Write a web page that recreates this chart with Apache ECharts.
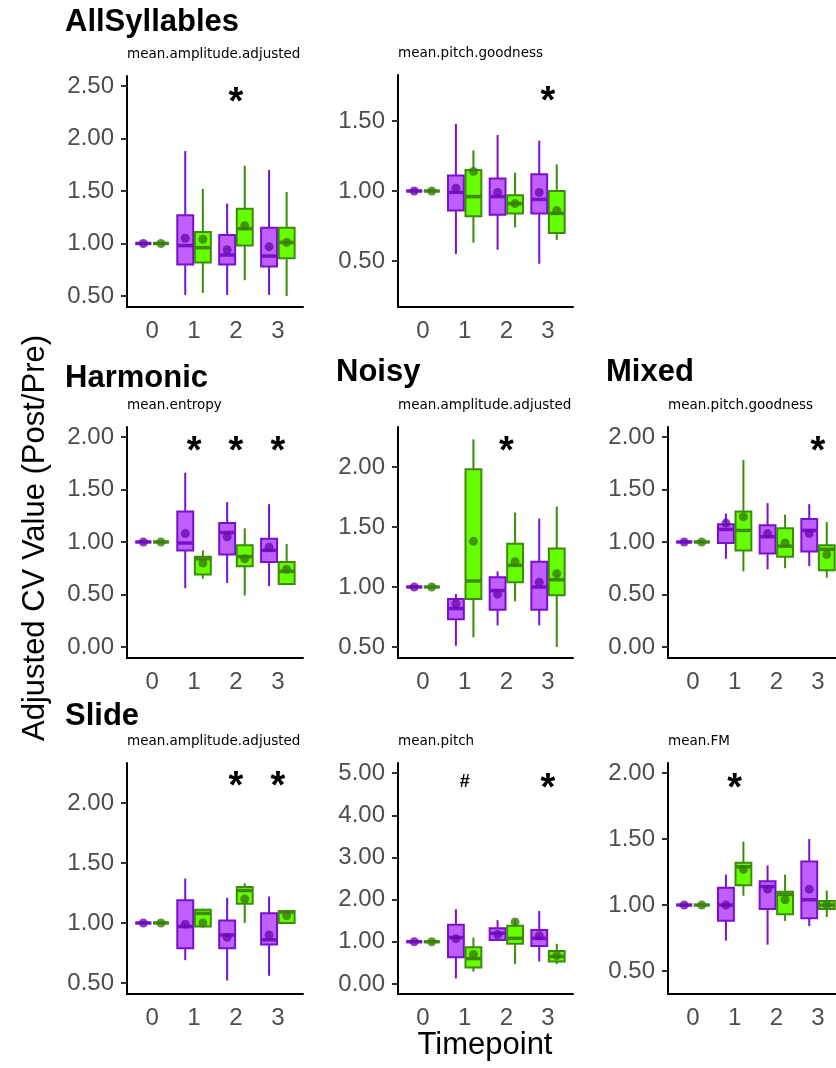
<!DOCTYPE html>
<html><head><meta charset="utf-8">
<script src="https://cdn.jsdelivr.net/npm/echarts@6/dist/echarts.min.js"></script>
<style>html,body{margin:0;padding:0;background:#fff}#c{width:836px;height:1068px}</style>
</head><body><div id="c"></div>
<script>
// ---- Data (box stats per timepoint 0..3: [low whisker, Q1, median, Q3, high whisker]) ----
const timepoints = ['0', '1', '2', '3'];

const allAmpP = [[1,1,1,1,1],[0.51,0.80,0.98,1.27,1.88],[0.51,0.80,0.89,1.08,1.38],[0.51,0.78,0.88,1.15,1.70]];
const allAmpG = [[1,1,1,1,1],[0.53,0.82,0.96,1.11,1.52],[0.65,0.98,1.14,1.33,1.74],[0.50,0.86,1.01,1.15,1.49]];
const allAmpMeanP = [1, 1.05, 0.94, 0.97];
const allAmpMeanG = [1, 1.04, 1.17, 1.01];
const allAmpSig = ['', '', '*', ''];

const allGoodP = [[1,1,1,1,1],[0.55,0.86,0.99,1.11,1.48],[0.58,0.83,0.96,1.09,1.40],[0.48,0.84,0.94,1.12,1.36]];
const allGoodG = [[1,1,1,1,1],[0.63,0.82,0.96,1.15,1.29],[0.74,0.84,0.91,0.97,1.13],[0.65,0.70,0.84,1.00,1.19]];
const allGoodMeanP = [1, 1.02, 0.99, 0.99];
const allGoodMeanG = [1, 1.14, 0.91, 0.86];
const allGoodSig = ['', '', '', '*'];

const harmEntP = [[1,1,1,1,1],[0.56,0.92,0.99,1.29,1.66],[0.61,0.88,1.09,1.18,1.38],[0.58,0.81,0.92,1.03,1.36]];
const harmEntG = [[1,1,1,1,1],[0.65,0.69,0.84,0.86,0.92],[0.49,0.77,0.86,0.97,1.13],[0.59,0.60,0.72,0.81,0.98]];
const harmEntMeanP = [1, 1.08, 1.05, 0.95];
const harmEntMeanG = [1, 0.80, 0.84, 0.74];
const harmEntSig = ['', '*', '*', '*'];

const noisyAmpP = [[1,1,1,1,1],[0.51,0.73,0.82,0.90,0.94],[0.68,0.81,0.97,1.08,1.13],[0.68,0.81,1.00,1.21,1.57]];
const noisyAmpG = [[1,1,1,1,1],[0.58,0.90,1.05,1.98,2.23],[0.88,1.04,1.18,1.36,1.62],[0.50,0.93,1.06,1.32,1.67]];
const noisyAmpMeanP = [1, 0.86, 0.94, 1.04];
const noisyAmpMeanG = [1, 1.38, 1.21, 1.11];
const noisyAmpSig = ['', '', '*', ''];

const mixedGoodP = [[1,1,1,1,1],[0.84,0.99,1.12,1.17,1.27],[0.74,0.89,1.05,1.16,1.37],[0.77,0.91,1.11,1.22,1.36]];
const mixedGoodG = [[1,1,1,1,1],[0.72,0.92,1.11,1.29,1.78],[0.75,0.86,0.96,1.13,1.26],[0.66,0.73,0.93,0.97,1.19]];
const mixedGoodMeanP = [1, 1.18, 1.08, 1.08];
const mixedGoodMeanG = [1, 1.24, 0.99, 0.88];
const mixedGoodSig = ['', '', '', '*'];

const slideAmpP = [[1,1,1,1,1],[0.69,0.79,0.97,1.19,1.37],[0.52,0.79,0.90,1.02,1.21],[0.56,0.82,0.86,1.08,1.22]];
const slideAmpG = [[1,1,1,1,1],[0.97,0.97,1.08,1.11,1.12],[1.00,1.16,1.27,1.30,1.33],[0.99,1.00,1.09,1.10,1.11]];
const slideAmpMeanP = [1, 0.99, 0.88, 0.90];
const slideAmpMeanG = [1, 1.00, 1.20, 1.06];
const slideAmpSig = ['', '', '*', '*'];

const slidePitchP = [[1,1,1,1,1],[0.13,0.63,1.10,1.40,1.77],[1.02,1.04,1.20,1.32,1.51],[0.53,0.90,1.08,1.28,1.73]];
const slidePitchG = [[1,1,1,1,1],[0.29,0.39,0.60,0.87,1.10],[0.47,0.95,1.08,1.38,1.53],[0.47,0.53,0.65,0.78,0.95]];
const slidePitchMeanP = [1, 1.07, 1.17, 1.14];
const slidePitchMeanG = [1, 0.70, 1.47, 0.67];
const slidePitchSig = ['', '#', '', '*'];

const slideFmP = [[1,1,1,1,1],[0.73,0.88,1.00,1.13,1.23],[0.70,0.97,1.14,1.18,1.30],[0.84,0.90,1.04,1.33,1.50]];
const slideFmG = [[1,1,1,1,1],[1.07,1.15,1.29,1.32,1.48],[0.88,0.93,1.08,1.10,1.23],[0.91,0.97,1.00,1.03,1.11]];
const slideFmMeanP = [1, 1.00, 1.12, 1.12];
const slideFmMeanG = [1, 1.27, 1.04, 1.00];
const slideFmSig = ['', '*', '', ''];

// y tick labels per panel
const ticksA = [0.5, 1.0, 1.5, 2.0, 2.5];
const ticksB = [0.5, 1.0, 1.5];
const ticks0to2 = [0.0, 0.5, 1.0, 1.5, 2.0];
const ticksHalfTo2 = [0.5, 1.0, 1.5, 2.0];
const ticks0to5 = [0, 1, 2, 3, 4, 5];

// ---- Layout ----
const panels = [
  {title:'AllSyllables', titleY:22, sub:'mean.amplitude.adjusted', left:127, top:76, width:176, height:231, ymin:0.395, ymax:2.595, ticks:ticksA, sigY:2.41,
   P:allAmpP, G:allAmpG, mP:allAmpMeanP, mG:allAmpMeanG, sig:allAmpSig},
  {title:'', sub:'mean.pitch.goodness', left:398, top:75, width:175, height:232, ymin:0.171, ymax:1.829, ticks:ticksB, sigY:1.69,
   P:allGoodP, G:allGoodG, mP:allGoodMeanP, mG:allGoodMeanG, sig:allGoodSig},
  {title:'Harmonic', titleY:378, sub:'mean.entropy', left:127, top:427, width:176, height:231, ymin:-0.105, ymax:2.095, ticks:ticks0to2, sigY:1.92,
   P:harmEntP, G:harmEntG, mP:harmEntMeanP, mG:harmEntMeanG, sig:harmEntSig},
  {title:'Noisy', titleY:372, sub:'mean.amplitude.adjusted', left:398, top:427, width:175, height:231, ymin:0.408, ymax:2.333, ticks:ticksHalfTo2, sigY:2.18,
   P:noisyAmpP, G:noisyAmpG, mP:noisyAmpMeanP, mG:noisyAmpMeanG, sig:noisyAmpSig},
  {title:'Mixed', titleY:372, sub:'mean.pitch.goodness', left:668, top:427, width:175, height:231, ymin:-0.105, ymax:2.095, ticks:ticks0to2, sigY:1.92,
   P:mixedGoodP, G:mixedGoodG, mP:mixedGoodMeanP, mG:mixedGoodMeanG, sig:mixedGoodSig},
  {title:'Slide', titleY:716, sub:'mean.amplitude.adjusted', left:127, top:763, width:176, height:231, ymin:0.408, ymax:2.333, ticks:ticksHalfTo2, sigY:2.19,
   P:slideAmpP, G:slideAmpG, mP:slideAmpMeanP, mG:slideAmpMeanG, sig:slideAmpSig},
  {title:'', sub:'mean.pitch', left:398, top:763, width:175, height:231, ymin:-0.24, ymax:5.24, ticks:ticks0to5, sigY:4.79,
   P:slidePitchP, G:slidePitchG, mP:slidePitchMeanP, mG:slidePitchMeanG, sig:slidePitchSig},
  {title:'', sub:'mean.FM', left:668, top:763, width:175, height:231, ymin:0.326, ymax:2.076, ticks:ticksHalfTo2, sigY:1.93,
   P:slideFmP, G:slideFmG, mP:slideFmMeanP, mG:slideFmMeanG, sig:slideFmSig}
];

const PURPLE = {fill:'#BF5FFF', stroke:'#7A0FCC', mean:'#6A0BAE'};
const GREEN  = {fill:'#66FF00', stroke:'#3C8C0A', mean:'#3A7D0A'};
const DODGE = 0.21, HALF = 0.19;
const FONT = '"Liberation Sans", Arial, sans-serif';

function boxRenderer(col) {
  return function(params, api) {
    const x = api.value(0);
    const lo = api.coord([x, api.value(1)]);
    const q1 = api.coord([x, api.value(2)]);
    const md = api.coord([x, api.value(3)]);
    const q3 = api.coord([x, api.value(4)]);
    const hi = api.coord([x, api.value(5)]);
    const h = api.size([HALF, 0])[0];
    const cx = lo[0];
    return {type:'group', children:[
      {type:'line', shape:{x1:cx, y1:hi[1], x2:cx, y2:q3[1]}, style:{stroke:col.stroke, lineWidth:2}},
      {type:'line', shape:{x1:cx, y1:q1[1], x2:cx, y2:lo[1]}, style:{stroke:col.stroke, lineWidth:2}},
      {type:'rect', shape:{x:cx - h, y:q3[1], width:2*h, height:q1[1]-q3[1]}, style:{fill:col.fill, stroke:col.stroke, lineWidth:2}},
      {type:'line', shape:{x1:cx - h, y1:md[1], x2:cx + h, y2:md[1]}, style:{stroke:col.stroke, lineWidth:3.5}}
    ]};
  };
}

const option = {animation:false, backgroundColor:'#fff', grid:[], xAxis:[], yAxis:[], series:[], graphic:[]};

panels.forEach((pn, i) => {
  option.grid.push({left:pn.left, top:pn.top, width:pn.width, height:pn.height, containLabel:false, outerBoundsMode:'none'});
  option.xAxis.push({type:'value', gridIndex:i, min:-0.6, max:3.6,
    axisLine:{onZero:false, lineStyle:{color:'#000', width:2}},
    axisTick:{show:false},
    splitLine:{show:false},
    axisLabel:{customValues:[0,1,2,3], formatter:v => timepoints[Math.round(v)], fontSize:24, color:'#4D4D4D', fontFamily:FONT, margin:12}
  });
  option.yAxis.push({type:'value', gridIndex:i, min:pn.ymin, max:pn.ymax,
    axisLine:{show:true, onZero:false, lineStyle:{color:'#000', width:2}},
    axisTick:{show:true, customValues:pn.ticks, length:6, lineStyle:{color:'#333', width:2}},
    splitLine:{show:false},
    axisLabel:{customValues:pn.ticks, formatter:v => v.toFixed(2), fontSize:24, color:'#4D4D4D', fontFamily:FONT, margin:13}
  });
  const mk = (arr, off) => arr.map((b, t) => [t + off].concat(b));
  option.series.push({type:'custom', xAxisIndex:i, yAxisIndex:i, renderItem:boxRenderer(PURPLE), data:mk(pn.P, -DODGE), z:2});
  option.series.push({type:'custom', xAxisIndex:i, yAxisIndex:i, renderItem:boxRenderer(GREEN), data:mk(pn.G, DODGE), z:2});
  option.series.push({type:'scatter', xAxisIndex:i, yAxisIndex:i, symbol:'circle', symbolSize:9, itemStyle:{color:PURPLE.mean}, data:pn.mP.map((m,t)=>[t-DODGE, m]), z:3});
  option.series.push({type:'scatter', xAxisIndex:i, yAxisIndex:i, symbol:'circle', symbolSize:9, itemStyle:{color:GREEN.mean}, data:pn.mG.map((m,t)=>[t+DODGE, m]), z:3});
  const sigData = [];
  pn.sig.forEach((s, t) => { if (s) sigData.push([t, pn.sigY, s]); });
  option.series.push({type:'custom', xAxisIndex:i, yAxisIndex:i, z:4, data:sigData,
    renderItem:(params, api) => {
      const p = api.coord([api.value(0), api.value(1)]);
      const s = sigData[params.dataIndex][2];
      const star = s === '*';
      const fs = star ? 38 : 18;
      return {type:'text', x:p[0], y:p[1] + (star ? fs*0.2 : 0), style:{text:s, fill:'#000', font:'bold ' + fs + 'px ' + FONT, align:'center', verticalAlign:'middle'}};
    }});
  if (pn.title) {
    option.graphic.push({type:'text', x:pn.left - 62, y:pn.titleY, style:{text:pn.title, fill:'#000', font:'bold 31px ' + FONT, align:'left', verticalAlign:'middle'}});
  }
  option.graphic.push({type:'text', x:pn.left, y:pn.top - 22, style:{text:pn.sub, fill:'#000', font:'13.5px "DejaVu Sans", sans-serif', align:'left', verticalAlign:'middle'}});
});

option.graphic.push({type:'text', x:35, y:538, rotation:Math.PI/2, style:{text:'Adjusted CV Value (Post/Pre)', fill:'#000', font:'31px ' + FONT, align:'center', verticalAlign:'middle'}});
option.graphic.push({type:'text', x:485, y:1045, style:{text:'Timepoint', fill:'#000', font:'31px ' + FONT, align:'center', verticalAlign:'middle'}});

const chart = echarts.init(document.getElementById('c'), null, {renderer:'canvas'});
chart.setOption(option);
</script></body></html>
